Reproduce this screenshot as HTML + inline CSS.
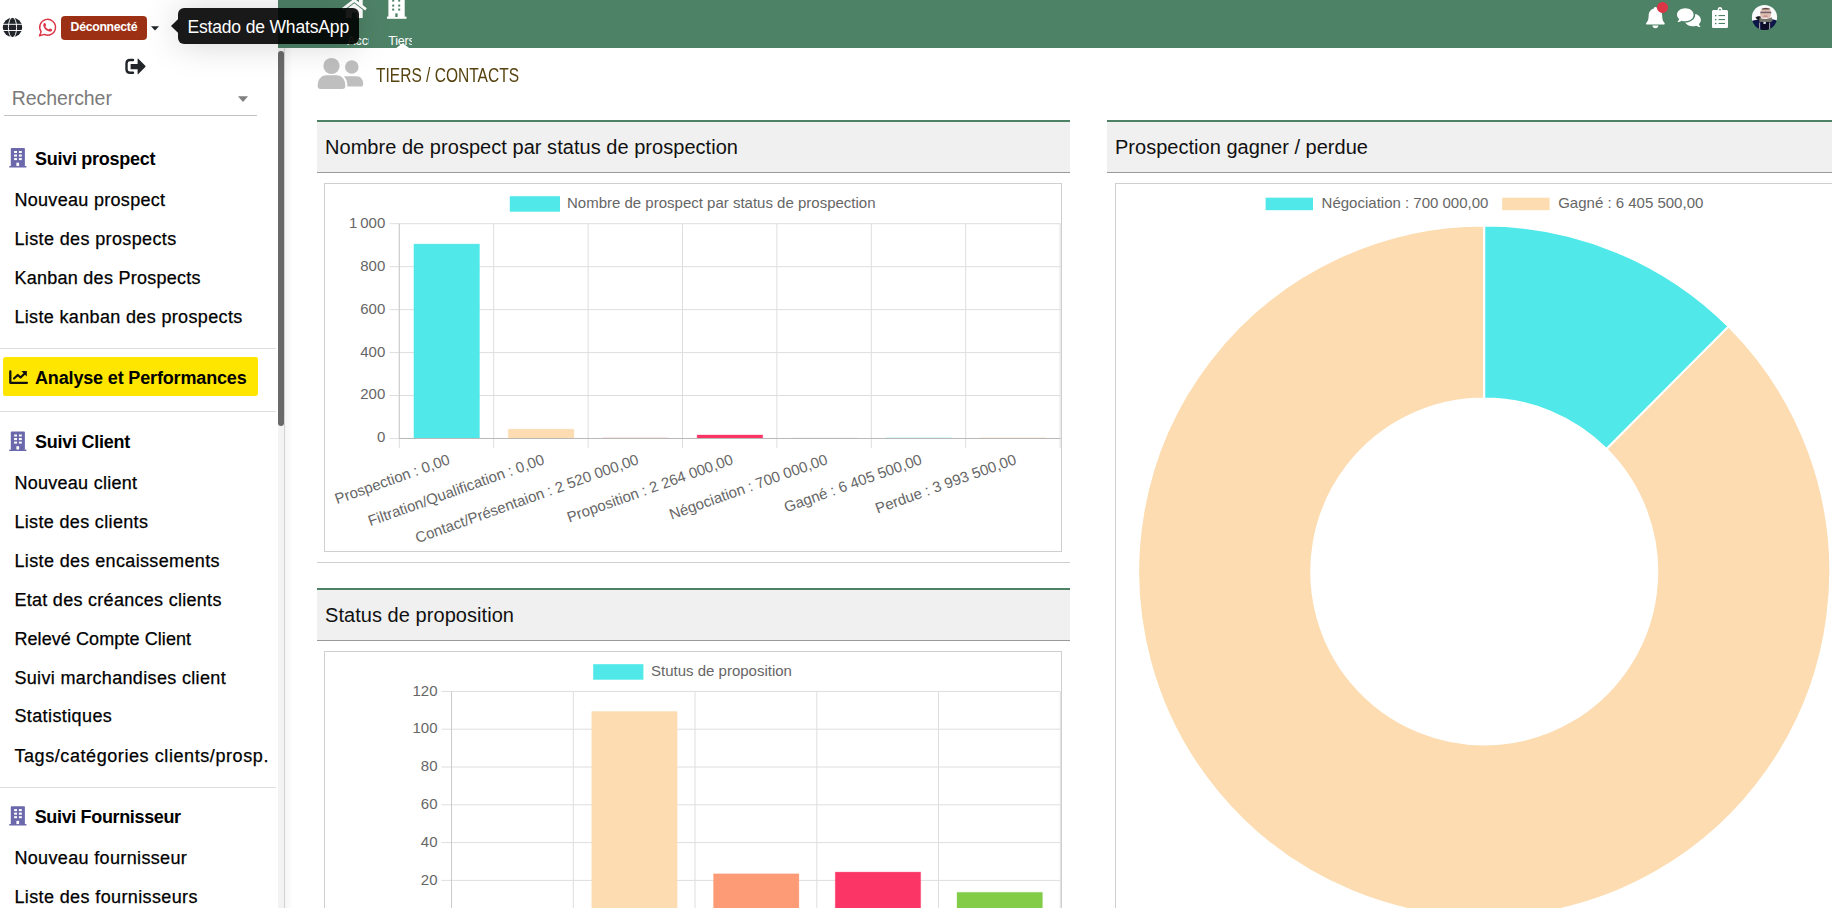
<!DOCTYPE html>
<html lang="fr"><head><meta charset="utf-8"><title>Tiers / Contacts</title>
<style>
html,body{margin:0;padding:0;}
body{width:1832px;height:908px;overflow:hidden;background:#fff;position:relative;font-family:"Liberation Sans", sans-serif;}
.t{position:absolute;white-space:nowrap;font-family:"Liberation Sans", sans-serif;}
.a{position:absolute;}
svg{position:absolute;overflow:visible;}
svg text{font-family:"Liberation Sans", sans-serif;}
</style></head><body>
<div class="a" style="left:278px;top:0px;width:1554px;height:48px;background:#4e8267;"></div>
<svg style="left:0;top:0" width="1832" height="48" viewBox="0 0 1832 48">
<g fill="#fff">
<!-- home -->
<path d="M342.5 9.3 L354.25 0.3 L366 9.3" fill="none" stroke="#fff" stroke-width="2.8"/>
<path d="M354.25 3.2 L362.7 9.7 L362.7 18 L345.8 18 L345.8 9.7 Z"/>
<rect x="359" y="-3" width="3.7" height="9"/>
<!-- building -->
<rect x="388.4" y="-6" width="16.3" height="23.4"/>
<rect x="387" y="16.6" width="19.5" height="2.2"/>
</g>
<g fill="#4e8267">
<rect x="392.2" y="0" width="2" height="1.6"/><rect x="398.2" y="0" width="2" height="1.6"/>
<rect x="392.2" y="4.6" width="2" height="2"/><rect x="398.2" y="4.6" width="2" height="2"/>
<rect x="392.2" y="8.6" width="2" height="2"/><rect x="398.2" y="8.6" width="2" height="2"/>
<rect x="395.3" y="13.4" width="2.3" height="3.6"/><rect x="352" y="12.5" width="4.6" height="5.5"/>
</g>
<path d="M396.3 48 L402.7 43.2 L409.1 48 Z" fill="#fff"/>
</svg>
<div class="a" style="left:345px;top:33px;width:24.2px;height:15px;overflow:hidden"><div class="t" style="left:2.2px;top:2.1px;font-size:12.5px;line-height:12.5px;color:#fff">Accueil</div></div>
<div class="a" style="left:388px;top:33px;width:24.2px;height:15px;overflow:hidden"><div class="t" style="left:0.2px;top:2.1px;font-size:12.5px;line-height:12.5px;color:#fff;letter-spacing:-0.2px">Tiers</div></div>
<svg style="left:0;top:0" width="1832" height="48" viewBox="0 0 1832 48">
<g fill="#fff">
<!-- bell -->
<path d="M1655.4 7 C1656.4 7 1657 7.7 1657 8.6 C1660.5 9.5 1662.2 12.3 1662.2 16 C1662.2 19.5 1663 21.3 1664.4 22.7 C1665.2 23.6 1664.6 24.6 1663.6 24.6 L1647.2 24.6 C1646.2 24.6 1645.6 23.6 1646.4 22.7 C1647.8 21.3 1648.6 19.5 1648.6 16 C1648.6 12.3 1650.3 9.5 1653.8 8.6 C1653.8 7.7 1654.4 7 1655.4 7 Z"/>
<path d="M1652.4 25.6 L1658.4 25.6 C1658.4 27.2 1657 28.2 1655.4 28.2 C1653.8 28.2 1652.4 27.2 1652.4 25.6 Z"/>
<!-- comments -->
<path d="M1685.3 8.3 C1690 8.3 1693.6 11.2 1693.6 14.8 C1693.6 18.4 1690 21.3 1685.3 21.3 C1684 21.3 1682.8 21.1 1681.7 20.7 C1680.6 21.5 1679 22 1677.4 22 C1678.3 21.2 1678.9 20 1679.1 19 C1677.8 17.9 1677 16.4 1677 14.8 C1677 11.2 1680.6 8.3 1685.3 8.3 Z"/>
<path d="M1695.2 13.9 C1698.6 14.6 1700.9 17 1700.9 19.9 C1700.9 21.5 1700.1 22.9 1698.9 24 C1699.1 25.1 1699.7 26.2 1700.6 27 C1699 27 1697.4 26.5 1696.3 25.7 C1695.2 26.1 1694 26.3 1692.7 26.3 C1689.3 26.3 1686.4 24.8 1685.2 22.6 C1690.6 22.6 1695.2 19.3 1695.2 14.8 Z"/>
<!-- clipboard -->
<path d="M1713.6 10 L1717.6 10 C1717.6 8.3 1718.6 7 1720 7 C1721.4 7 1722.4 8.3 1722.4 10 L1726.4 10 C1727.3 10 1728 10.7 1728 11.6 L1728 26.4 C1728 27.3 1727.3 28 1726.4 28 L1713.6 28 C1712.7 28 1712 27.3 1712 26.4 L1712 11.6 C1712 10.7 1712.7 10 1713.6 10 Z"/>
</g>
<circle cx="1720" cy="9.6" r="0.9" fill="#4e8267"/>
<g fill="#4e8267">
<rect x="1718.6" y="15" width="6.4" height="1.1"/><rect x="1718.6" y="19" width="6.4" height="1.1"/><rect x="1718.6" y="22.9" width="6.4" height="1.1"/>
<rect x="1715" y="14.9" width="1.4" height="1.4"/><rect x="1715" y="18.9" width="1.4" height="1.4"/><rect x="1715" y="22.8" width="1.4" height="1.4"/>
</g>
<circle cx="1662.5" cy="7.4" r="5.5" fill="#dc3545"/>
<!-- avatar -->
<defs><clipPath id="av"><circle cx="1764.5" cy="17.5" r="12.6"/></clipPath>
<filter id="avb" x="-10%" y="-10%" width="120%" height="120%"><feGaussianBlur stdDeviation="0.45"/></filter></defs>
<g clip-path="url(#av)"><g filter="url(#avb)">
<rect x="1750" y="3" width="30" height="30" fill="#fbfbfc"/>
<ellipse cx="1765.7" cy="13.6" rx="5.6" ry="6" fill="#dfbdb1"/>
<path d="M1761.6 8.6 C1763.5 7.7 1768 7.7 1770 8.6 L1769.6 9.4 L1762 9.4 Z" fill="#5e4a44"/>
<rect x="1760.4" y="11.7" width="10.8" height="1.5" fill="#5b5360" opacity="0.85"/>
<ellipse cx="1765.6" cy="16.2" rx="2.2" ry="1" fill="#c98f8a"/>
<ellipse cx="1765.3" cy="18.4" rx="2.6" ry="0.9" fill="#ece6e2"/>
<path d="M1751 21.5 C1754 19.8 1757 19.6 1759.5 19.4 L1771 19 C1774 19.6 1777 20.4 1779 21.5 L1779 32 L1751 32 Z" fill="#10154a"/>
<path d="M1755.4 17.6 C1757 16.2 1759.4 16 1760.6 16.6 L1761 20.4 L1757.4 19.8 Z" fill="#15161c"/>
<path d="M1759.6 17.4 C1763 19.6 1768 19.6 1771.6 17.2 L1772.8 20.8 C1770 23.2 1762 23.4 1759.2 21.6 Z" fill="#73746c"/>
<path d="M1761 22 L1769.6 22 L1769.6 31 L1761 31 Z" fill="#0a0d2c"/>
<rect x="1763.4" y="21.9" width="2.4" height="2" fill="#e9ecf4"/>
<rect x="1759.2" y="22.6" width="0.9" height="7" fill="#b9b4ae"/>
<rect x="1769.2" y="22.6" width="0.9" height="7" fill="#b9b4ae"/>
</g></g>
</svg>
<div class="a" style="left:278px;top:48px;width:6.6px;height:860px;background:#f3f3f3;"></div>
<div class="a" style="left:284.2px;top:48px;width:1px;height:860px;background:#d2d2d2;"></div>
<div class="a" style="left:285.2px;top:48px;width:8px;height:860px;background:linear-gradient(to right,#f5f5f5,#fff);"></div>
<div class="a" style="left:278px;top:51px;width:6px;height:374.5px;background:#696969;border-radius:3px;"></div>
<div class="a" style="left:0px;top:348px;width:276px;height:1px;background:#dedede;"></div>
<div class="a" style="left:0px;top:411px;width:276px;height:1px;background:#dedede;"></div>
<div class="a" style="left:0px;top:787px;width:276px;height:1px;background:#dedede;"></div>
<div class="a" style="left:3px;top:357px;width:255.4px;height:38.6px;background:#ffe600;border-radius:3px 2px 3px 2px;"></div>
<div class="a" style="left:4px;top:115px;width:253px;height:1px;background:#c2c2c2;"></div>
<svg style="left:0;top:0" width="290" height="908" viewBox="0 0 290 908">
<g transform="translate(10.8,148.1)"><rect x="0" y="0" width="14.1" height="18.3" rx="0.8" fill="#6b69ab"/><rect x="-1.6" y="17.9" width="17.3" height="1.4" rx="0.5" fill="#6b69ab"/>
<g fill="#fff"><rect x="3.3" y="2.9" width="2.9" height="2"/><rect x="8.1" y="2.9" width="2.9" height="2"/><rect x="3.3" y="6.4" width="2.9" height="2.1"/><rect x="8.1" y="6.4" width="2.9" height="2.1"/><rect x="3.3" y="10" width="2.9" height="2"/><rect x="8.1" y="10" width="2.9" height="2"/><rect x="5.6" y="14.6" width="2.7" height="3.3"/></g></g>
<g transform="translate(10.8,431.6)"><rect x="0" y="0" width="14.1" height="18.3" rx="0.8" fill="#6b69ab"/><rect x="-1.6" y="17.9" width="17.3" height="1.4" rx="0.5" fill="#6b69ab"/>
<g fill="#fff"><rect x="3.3" y="2.9" width="2.9" height="2"/><rect x="8.1" y="2.9" width="2.9" height="2"/><rect x="3.3" y="6.4" width="2.9" height="2.1"/><rect x="8.1" y="6.4" width="2.9" height="2.1"/><rect x="3.3" y="10" width="2.9" height="2"/><rect x="8.1" y="10" width="2.9" height="2"/><rect x="5.6" y="14.6" width="2.7" height="3.3"/></g></g>
<g transform="translate(10.8,806.2)"><rect x="0" y="0" width="14.1" height="18.3" rx="0.8" fill="#6b69ab"/><rect x="-1.6" y="17.9" width="17.3" height="1.4" rx="0.5" fill="#6b69ab"/>
<g fill="#fff"><rect x="3.3" y="2.9" width="2.9" height="2"/><rect x="8.1" y="2.9" width="2.9" height="2"/><rect x="3.3" y="6.4" width="2.9" height="2.1"/><rect x="8.1" y="6.4" width="2.9" height="2.1"/><rect x="3.3" y="10" width="2.9" height="2"/><rect x="8.1" y="10" width="2.9" height="2"/><rect x="5.6" y="14.6" width="2.7" height="3.3"/></g></g>
<!-- chart-line icon -->
<g fill="none" stroke="#111" stroke-width="2.3" stroke-linecap="round" stroke-linejoin="round">
<path d="M10.3 371.5 L10.3 382.8 L27 382.8"/>
<path d="M14 378.6 L17.8 374.9 L20.6 377.6 L25 373.2" stroke-width="2.1"/>
</g>
<path d="M21.4 371 L26.8 371 L26.8 376.4 Z" fill="#111"/>
<!-- globe -->
<circle cx="12.5" cy="27.45" r="9.7" fill="#212529"/>
<g fill="none" stroke="#fff" stroke-width="0.95">
<ellipse cx="12.5" cy="27.45" rx="4.1" ry="10.2"/>
<path d="M1 24.3 L24 24.3 M1 30.5 L24 30.5"/>
</g>
<!-- whatsapp -->
<g fill="none" stroke="#dc3545" stroke-width="1.45" stroke-linejoin="round">
<path d="M41.13 31.78 A7.9 7.9 0 1 1 44.26 34.41 L39.5 35.7 Z"/>
</g>
<path d="M44.6 23 C45.2 22.4 45.9 22.6 46.2 23.3 L46.8 24.8 C47 25.3 46.8 25.7 46.4 26.1 C46.1 26.5 46 26.7 46.3 27.2 C47 28.4 48 29.3 49.2 29.9 C49.7 30.1 49.9 30 50.2 29.7 C50.6 29.2 50.9 28.9 51.5 29.2 L52.9 29.9 C53.5 30.2 53.6 30.6 53.3 31.3 C52.8 32.4 51.6 32.9 50.4 32.6 C47.3 31.8 44.9 29.5 44 26.4 C43.7 25.1 43.9 23.8 44.6 23 Z" fill="#dc3545" transform="translate(47.55 27.45) scale(0.92 0.86) translate(-48.45 -27.85)"/>
<!-- caret badge -->
<path d="M151 26.2 L159 26.2 L155 30.4 Z" fill="#212529"/>
<!-- logout -->
<path d="M133 60 L130 60 C127.8 60 126.5 61.3 126.5 63.5 L126.5 69.2 C126.5 71.4 127.8 72.7 130 72.7 L133 72.7" fill="none" stroke="#212529" stroke-width="2.4" stroke-linecap="round"/>
<path d="M130.6 64 L137.6 64 L137.6 58.9 C137.6 58.5 138 58.4 138.3 58.7 L145.3 65.8 C145.6 66.1 145.6 66.6 145.3 66.9 L138.3 74 C138 74.3 137.6 74.2 137.6 73.8 L137.6 69.2 L130.6 69.2 Z" fill="#212529"/>
<!-- search caret -->
<path d="M238 96.2 L248 96.2 L243 102 Z" fill="#808080"/>
</svg>
<div class="a" style="left:61px;top:16px;width:86px;height:24px;background:#9b3015;border-radius:4px;"></div>
<svg style="left:0;top:0" width="600" height="120" viewBox="0 0 600 120">
<g fill="#bfbfbf">
<circle cx="331.5" cy="66" r="8.1"/>
<path d="M317.7 86 C317.7 79.5 321 75.3 326.5 75.3 L336.5 75.3 C342 75.3 345.3 79.5 345.3 86 C345.3 88 344.3 89 342.3 89 L320.7 89 C318.7 89 317.7 88 317.7 86 Z"/>
<circle cx="351.8" cy="67" r="6.8"/>
<path d="M345.6 76.2 L356.5 76.2 C360.7 76.2 363.2 79.3 363.2 84 C363.2 85.8 362.3 86.6 360.6 86.6 L347.4 86.6 C347.4 82.5 346.6 79 344 76.6 C344.5 76.3 345 76.2 345.6 76.2 Z"/>
</g></svg>
<div class="a" style="left:317px;top:120px;width:753px;height:2px;background:#4e8267;"></div>
<div class="a" style="left:317px;top:122px;width:753px;height:50px;background:#f0f0f0;"></div>
<div class="a" style="left:317px;top:172px;width:753px;height:1px;background:#9a9a9a;"></div>
<div class="a" style="left:1107px;top:120px;width:753px;height:2px;background:#4e8267;"></div>
<div class="a" style="left:1107px;top:122px;width:753px;height:50px;background:#f0f0f0;"></div>
<div class="a" style="left:1107px;top:172px;width:753px;height:1px;background:#9a9a9a;"></div>
<div class="a" style="left:317px;top:588px;width:753px;height:2px;background:#4e8267;"></div>
<div class="a" style="left:317px;top:590px;width:753px;height:50px;background:#f0f0f0;"></div>
<div class="a" style="left:317px;top:640px;width:753px;height:1px;background:#9a9a9a;"></div>
<div class="a" style="left:317px;top:562px;width:753px;height:1px;background:#cfcfcf;"></div>
<div class="a" style="left:324px;top:183px;width:736px;height:367px;border:1px solid #cfcfcf;background:#fff"></div>
<div class="a" style="left:324px;top:651px;width:736px;height:400px;border:1px solid #cfcfcf;background:#fff"></div>
<div class="a" style="left:1115px;top:183px;width:736px;height:800px;border:1px solid #cfcfcf;background:#fff"></div>
<svg style="left:0;top:0" width="1832" height="908" viewBox="0 0 1832 908">
<g stroke="#dedede" stroke-width="1" fill="none">
<path d="M399.3 223.7 L399.3 448.1"/>
<path d="M493.7 223.7 L493.7 448.1"/>
<path d="M588.1 223.7 L588.1 448.1"/>
<path d="M682.5 223.7 L682.5 448.1"/>
<path d="M776.9 223.7 L776.9 448.1"/>
<path d="M871.3 223.7 L871.3 448.1"/>
<path d="M965.7 223.7 L965.7 448.1"/>
<path d="M1060.1 223.7 L1060.1 448.1"/>
<path d="M389.5 223.7 L1060.5 223.7"/>
<path d="M389.5 266.7 L1060.5 266.7"/>
<path d="M389.5 309.6 L1060.5 309.6"/>
<path d="M389.5 352.6 L1060.5 352.6"/>
<path d="M389.5 395.5 L1060.5 395.5"/>
<path d="M389.5 438.5 L1060.5 438.5"/>
</g>
<path d="M399.3 223.7 L399.3 438.5" stroke="#cbcbcb" stroke-width="1"/>
<rect x="413.90" y="244.04" width="65.60" height="193.96" fill="#50e8e8" stroke="#50e8e8" stroke-opacity="0.3" stroke-width="1"/>
<rect x="508.30" y="429.19" width="65.60" height="8.81" fill="#fcdcb0" stroke="#fcdcb0" stroke-opacity="0.3" stroke-width="1"/>
<rect x="602.70" y="437.57" width="65.60" height="0.43" fill="#f3d6cf" stroke="#f3d6cf" stroke-opacity="0.3" stroke-width="1"/>
<rect x="697.10" y="434.99" width="65.60" height="3.01" fill="#fb3566" stroke="#fb3566" stroke-opacity="0.3" stroke-width="1"/>
<rect x="791.50" y="437.79" width="65.60" height="0.21" fill="#e6e6e6" stroke="#e6e6e6" stroke-opacity="0.3" stroke-width="1"/>
<rect x="885.90" y="437.57" width="65.60" height="0.43" fill="#bdf3f3" stroke="#bdf3f3" stroke-opacity="0.3" stroke-width="1"/>
<rect x="980.30" y="437.57" width="65.60" height="0.43" fill="#fbe6cf" stroke="#fbe6cf" stroke-opacity="0.3" stroke-width="1"/>
<path d="M399.3 438.5 L1060.5 438.5" stroke="#b9b9b9" stroke-width="1"/>
<rect x="509.8" y="196.2" width="50.2" height="15.5" fill="#50e8e8"/>
<g fill="#666" font-size="15">
<text x="567" y="208.2">Nombre de prospect par status de prospection</text>
<text x="385.3" y="227.6" text-anchor="end">1 000</text>
<text x="385.3" y="270.6" text-anchor="end">800</text>
<text x="385.3" y="313.5" text-anchor="end">600</text>
<text x="385.3" y="356.5" text-anchor="end">400</text>
<text x="385.3" y="399.4" text-anchor="end">200</text>
<text x="385.3" y="442.4" text-anchor="end">0</text>
<text x="450.9" y="463.6" text-anchor="end" transform="rotate(-19.7 450.9 463.6)">Prospection : 0,00</text>
<text x="545.3" y="463.6" text-anchor="end" transform="rotate(-19.7 545.3 463.6)">Filtration/Qualification : 0,00</text>
<text x="639.7" y="463.6" text-anchor="end" transform="rotate(-19.7 639.7 463.6)">Contact/Présentaion : 2 520 000,00</text>
<text x="734.1" y="463.6" text-anchor="end" transform="rotate(-19.7 734.1 463.6)">Proposition : 2 264 000,00</text>
<text x="828.5" y="463.6" text-anchor="end" transform="rotate(-19.7 828.5 463.6)">Négociation : 700 000,00</text>
<text x="922.9" y="463.6" text-anchor="end" transform="rotate(-19.7 922.9 463.6)">Gagné : 6 405 500,00</text>
<text x="1017.3" y="463.6" text-anchor="end" transform="rotate(-19.7 1017.3 463.6)">Perdue : 3 993 500,00</text>
</g>
<g stroke="#dedede" stroke-width="1" fill="none">
<path d="M451.5 691.4 L451.5 920"/>
<path d="M573.3 691.4 L573.3 920"/>
<path d="M695.0 691.4 L695.0 920"/>
<path d="M816.8 691.4 L816.8 920"/>
<path d="M938.5 691.4 L938.5 920"/>
<path d="M1060.3 691.4 L1060.3 920"/>
<path d="M441.5 691.4 L1060.5 691.4"/>
<path d="M441.5 729.2 L1060.5 729.2"/>
<path d="M441.5 767.0 L1060.5 767.0"/>
<path d="M441.5 804.8 L1060.5 804.8"/>
<path d="M441.5 842.6 L1060.5 842.6"/>
<path d="M441.5 880.4 L1060.5 880.4"/>
</g>
<path d="M451.5 691.4 L451.5 920" stroke="#cbcbcb" stroke-width="1"/>
<rect x="591.74" y="711.46" width="85.40" height="208.54" fill="#fcdcb0" stroke="#fcdcb0" stroke-opacity="0.3" stroke-width="1"/>
<rect x="713.50" y="873.81" width="85.40" height="46.19" fill="#fd9b76" stroke="#fd9b76" stroke-opacity="0.3" stroke-width="1"/>
<rect x="835.26" y="872.11" width="85.40" height="47.89" fill="#fb3566" stroke="#fb3566" stroke-opacity="0.3" stroke-width="1"/>
<rect x="957.02" y="892.33" width="85.40" height="27.67" fill="#82cc48" stroke="#82cc48" stroke-opacity="0.3" stroke-width="1"/>
<rect x="593.2" y="664.2" width="50.2" height="15.5" fill="#50e8e8"/>
<g fill="#666" font-size="15">
<text x="651" y="676.2">Stutus de proposition</text>
<text x="437.5" y="695.5" text-anchor="end">120</text>
<text x="437.5" y="733.3" text-anchor="end">100</text>
<text x="437.5" y="771.1" text-anchor="end">80</text>
<text x="437.5" y="808.9" text-anchor="end">60</text>
<text x="437.5" y="846.7" text-anchor="end">40</text>
<text x="437.5" y="884.5" text-anchor="end">20</text>
</g>
<path d="M1728.48 326.41 A346 346 0 1 1 1484.25 225.50 L1484.25 398.50 A173 173 0 1 0 1606.37 448.96 Z" fill="#fcdcb0" stroke="#fff" stroke-width="2" stroke-linejoin="round"/>
<path d="M1484.25 225.50 A346 346 0 0 1 1728.48 326.41 L1606.37 448.96 A173 173 0 0 0 1484.25 398.50 Z" fill="#50e8e8" stroke="#fff" stroke-width="2" stroke-linejoin="round"/>
<rect x="1265.6" y="197.7" width="47.4" height="12.5" fill="#50e8e8"/>
<rect x="1502.2" y="197.7" width="47.4" height="12.5" fill="#fcdcb0"/>
<g fill="#666" font-size="15">
<text x="1321.6" y="208.2">Négociation : 700 000,00</text>
<text x="1558.2" y="208.2">Gagné : 6 405 500,00</text>
</g>
</svg>
<div class="a" style="left:178px;top:8px;width:181px;height:36px;background:rgba(0,0,0,0.9);border-radius:6px;box-shadow:0 1px 34px rgba(0,0,0,0.17)"></div>
<svg style="left:0;top:0" width="200" height="60"><path d="M171 26 L178.2 19 L178.2 33 Z" fill="rgba(0,0,0,0.9)"/></svg>
<div class="t" style="left:35px;top:150.06px;font-size:18px;line-height:18px;color:#000;font-weight:700;letter-spacing:-0.274px;">Suivi prospect</div>
<div class="t" style="left:14.4px;top:190.96px;font-size:18px;line-height:18px;color:#000;letter-spacing:0.307px;-webkit-text-stroke:0.25px #000;">Nouveau prospect</div>
<div class="t" style="left:14.4px;top:229.96px;font-size:18px;line-height:18px;color:#000;letter-spacing:0.374px;-webkit-text-stroke:0.25px #000;">Liste des prospects</div>
<div class="t" style="left:14.4px;top:268.86px;font-size:18px;line-height:18px;color:#000;letter-spacing:0.269px;-webkit-text-stroke:0.25px #000;">Kanban des Prospects</div>
<div class="t" style="left:14.4px;top:307.76px;font-size:18px;line-height:18px;color:#000;letter-spacing:0.348px;-webkit-text-stroke:0.25px #000;">Liste kanban des prospects</div>
<div class="t" style="left:35px;top:368.76px;font-size:18px;line-height:18px;color:#000;font-weight:700;letter-spacing:-0.153px;">Analyse et Performances</div>
<div class="t" style="left:35px;top:432.56px;font-size:18px;line-height:18px;color:#000;font-weight:700;letter-spacing:-0.251px;">Suivi Client</div>
<div class="t" style="left:14.4px;top:474.46px;font-size:18px;line-height:18px;color:#000;letter-spacing:0.280px;-webkit-text-stroke:0.25px #000;">Nouveau client</div>
<div class="t" style="left:14.4px;top:513.26px;font-size:18px;line-height:18px;color:#000;letter-spacing:0.342px;-webkit-text-stroke:0.25px #000;">Liste des clients</div>
<div class="t" style="left:14.4px;top:551.96px;font-size:18px;line-height:18px;color:#000;letter-spacing:0.369px;-webkit-text-stroke:0.25px #000;">Liste des encaissements</div>
<div class="t" style="left:14.4px;top:590.76px;font-size:18px;line-height:18px;color:#000;letter-spacing:0.288px;-webkit-text-stroke:0.25px #000;">Etat des créances clients</div>
<div class="t" style="left:14.4px;top:629.76px;font-size:18px;line-height:18px;color:#000;letter-spacing:0.086px;-webkit-text-stroke:0.25px #000;">Relevé Compte Client</div>
<div class="t" style="left:14.4px;top:668.56px;font-size:18px;line-height:18px;color:#000;letter-spacing:0.340px;-webkit-text-stroke:0.25px #000;">Suivi marchandises client</div>
<div class="t" style="left:14.4px;top:707.36px;font-size:18px;line-height:18px;color:#000;letter-spacing:0.395px;-webkit-text-stroke:0.25px #000;">Statistiques</div>
<div class="t" style="left:14.4px;top:746.66px;font-size:18px;line-height:18px;color:#000;letter-spacing:0.582px;-webkit-text-stroke:0.25px #000;">Tags/catégories clients/prosp.</div>
<div class="t" style="left:34.7px;top:807.86px;font-size:18px;line-height:18px;color:#000;font-weight:700;letter-spacing:-0.350px;">Suivi Fournisseur</div>
<div class="t" style="left:14.4px;top:849.26px;font-size:18px;line-height:18px;color:#000;letter-spacing:0.352px;-webkit-text-stroke:0.25px #000;">Nouveau fournisseur</div>
<div class="t" style="left:14.4px;top:888.16px;font-size:18px;line-height:18px;color:#000;letter-spacing:0.382px;-webkit-text-stroke:0.25px #000;">Liste des fournisseurs</div>
<div class="t" style="left:11.8px;top:88.79px;font-size:19.5px;line-height:19.5px;color:#7a7a7a;letter-spacing:-0.080px;">Rechercher</div>
<div class="t" style="left:70.6px;top:20.79px;font-size:12.3px;line-height:12.3px;color:#fff;font-weight:700;letter-spacing:-0.312px;">Déconnecté</div>
<div class="t" style="left:187.4px;top:19.19px;font-size:17.5px;line-height:17.5px;color:#fff;letter-spacing:-0.156px;">Estado de WhatsApp</div>
<div class="t" style="left:376.4px;top:65.96px;font-size:19.3px;line-height:19.3px;color:#56430f;transform:scaleX(0.8058);transform-origin:0 0;">TIERS / CONTACTS</div>
<div class="t" style="left:325px;top:137.07px;font-size:20px;line-height:20px;color:#111;letter-spacing:0.038px;">Nombre de prospect par status de prospection</div>
<div class="t" style="left:1115px;top:137.07px;font-size:20px;line-height:20px;color:#111;letter-spacing:0.022px;">Prospection gagner / perdue</div>
<div class="t" style="left:325px;top:605.07px;font-size:20px;line-height:20px;color:#111;letter-spacing:0.052px;">Status de proposition</div>

</body></html>
